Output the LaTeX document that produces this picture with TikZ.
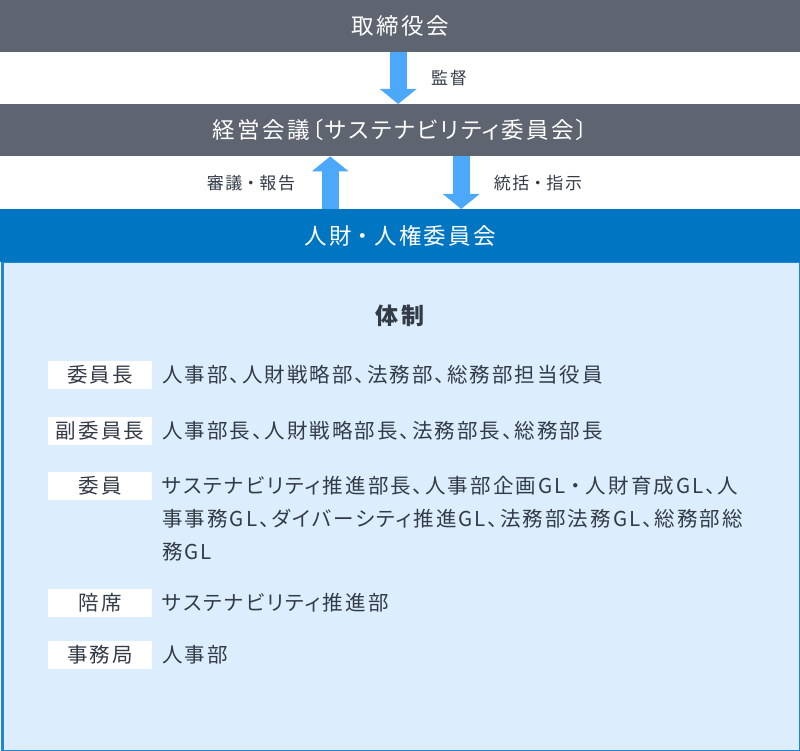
\documentclass[tikz,border=0pt]{standalone}
\usepackage{fontspec}
\usetikzlibrary{arrows.meta,positioning}

\newfontfamily\jp{Noto Sans CJK JP}[RawFeature=+palt,LetterSpace=10]
\newfontfamily\jpwide{Noto Sans CJK JP}[LetterSpace=10]
\newcommand\nakaten{{\jpwide ・}}
\newcommand\barfont{\jp\fontsize{22.5}{27}\selectfont}
\newcommand\notefont{\jp\fontsize{17}{20}\selectfont}
\newcommand\headfont{\jp\bfseries\fontsize{23}{27}\selectfont}
\newcommand\rowfont{\jp\fontsize{20.5}{33}\selectfont}

\definecolor{barGray}{HTML}{5E6470}
\definecolor{bandBlue}{HTML}{0075C2}
\definecolor{panelFill}{HTML}{DCEEFD}
\definecolor{panelLine}{HTML}{1A87D7}
\definecolor{arrowBlue}{HTML}{4BA8FA}
\definecolor{inkDark}{HTML}{333B47}

\tikzset{
  bar/.style={fill=barGray, text=white, font=\barfont, minimum width=800pt,
    minimum height=52pt, inner sep=0pt, anchor=north west},
  band/.style={bar, fill=bandBlue, minimum height=53pt},
  panel/.style={fill=panelFill, draw=panelLine, line width=2.5pt,
    minimum width=797.5pt, minimum height=488.75pt, inner sep=0pt, anchor=north west},
  flow/.style={draw=arrowBlue, line width=17pt, -{Triangle[width=36pt,length=15pt]}},
  note/.style={text=inkDark, font=\notefont, inner sep=0pt},
  rolebox/.style={fill=white, text=inkDark, font=\rowfont, minimum width=104pt,
    minimum height=28pt, inner sep=0pt},
  rowtext/.style={text=inkDark, font=\rowfont, inner sep=0pt, anchor=west, align=left}
}

\begin{document}
\begin{tikzpicture}[x=1pt,y=-1pt]
    \useasboundingbox (0,0) rectangle (800,751);

    % Board and management meeting
    \node[bar] (board) at (0,0) {取締役会};
    \node[bar] (mgmt) at (0,104) {経営会議〔サステナビリティ委員会〕};

    % Committee panel
    \node[panel] (taisei) at (1.25,261) {};
    \node[band] (hr) at (0,209) {人財\nakaten 人権委員会};

    % Arrows between bodies
    \draw[flow] ([xshift=-2pt]board.south) -- ([xshift=-2pt]mgmt.north);
    \draw[flow] ([xshift=-70pt]hr.north) -- ([xshift=-70pt]mgmt.south);
    \draw[flow] ([xshift=61pt]mgmt.south) -- ([xshift=61pt]hr.north);
    \node[note] (kansa) at (449,78) {監督};
    \node[note] (shingi) at (251,183) {審議\nakaten 報告};
    \node[note] (tokatsu) at (538,183) {統括\nakaten 指示};

    % Heading
    \node[text=inkDark, font=\headfont, inner sep=0pt] (head) at (400,316) {体制};

    % Roles
    \node[rolebox] (role1) at (100,375) {委員長};
    \node[rolebox] (role2) at (100,431) {副委員長};
    \node[rolebox] (role3) at (100,486) {委員};
    \node[rolebox] (role4) at (100,602.5) {陪席};
    \node[rolebox] (role5) at (100,654.5) {事務局};

    % Members
    \node[rowtext] (val1) at (162,375) {人事部、人財戦略部、法務部、総務部担当役員};
    \node[rowtext] (val2) at (162,431) {人事部長、人財戦略部長、法務部長、総務部長};
    \node[rowtext] (val3) at (162,518.5) {サステナビリティ推進部長、人事部企画GL\nakaten 人財育成GL、人\\
      事事務GL、ダイバーシティ推進GL、法務部法務GL、総務部総\\
      務GL};
    \node[rowtext] (val4) at (162,602.5) {サステナビリティ推進部};
    \node[rowtext] (val5) at (162,654.5) {人事部};
\end{tikzpicture}
\end{document}
